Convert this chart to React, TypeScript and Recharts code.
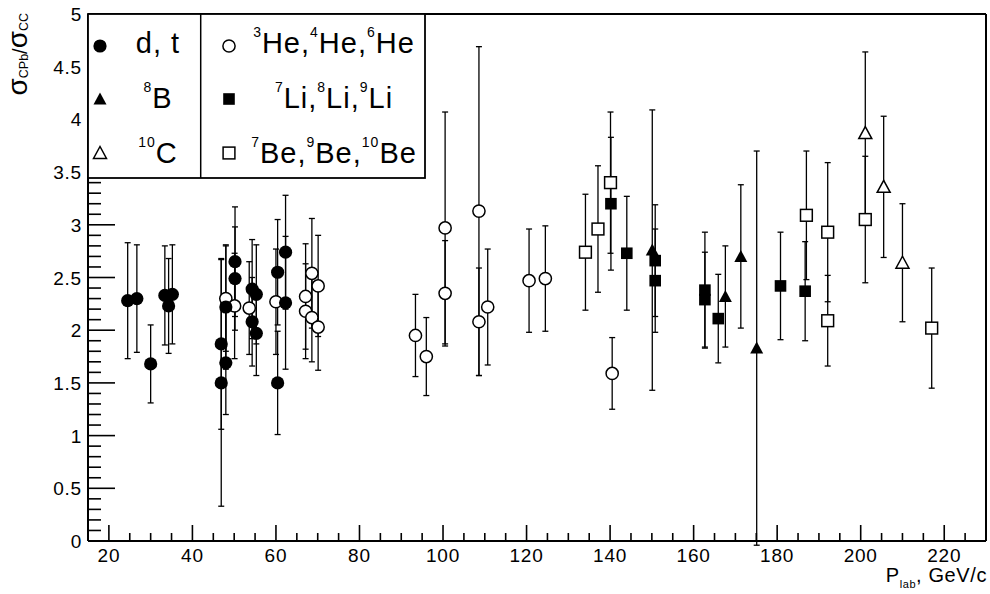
import React from 'react';
import { ScatterChart, Scatter, XAxis, YAxis, ErrorBar, ReferenceLine, Legend } from 'recharts';

// ---------------------------------------------------------------------------
// DATA: [P_lab (GeV/c), sigma_CPb / sigma_CC, error]
// ---------------------------------------------------------------------------
const dtPoints = [
  [24.5, 2.28, 0.55], [26.7, 2.3, 0.51], [30.0, 1.68, 0.37], [33.4, 2.33, 0.47],
  [35.2, 2.34, 0.47], [34.3, 2.23, 0.45], [46.9, 1.5, 1.17], [46.9, 1.87, 0.81],
  [48.0, 2.22, 0.59], [48.0, 1.69, 0.49], [50.2, 2.65, 0.52], [50.2, 2.49, 0.49],
  [54.3, 2.39, 0.47], [55.3, 2.34, 0.47], [54.3, 2.08, 0.42], [55.3, 1.97, 0.4],
  [60.4, 2.55, 0.5], [60.4, 1.5, 0.49], [62.3, 2.74, 0.54], [62.3, 2.26, 0.63],
];

const hePoints = [
  [48.0, 2.3, 0.5], [50.1, 2.23, 0.5], [53.6, 2.21, 0.44], [60.0, 2.27, 0.5],
  [67.1, 2.32, 0.5], [67.1, 2.18, 0.45], [68.6, 2.54, 0.52], [68.6, 2.12, 0.42],
  [70.1, 2.42, 0.48], [70.1, 2.03, 0.41], [93.4, 1.95, 0.39], [96.0, 1.75, 0.37],
  [100.5, 2.97, 1.1], [100.5, 2.35, 0.5], [108.6, 3.13, 1.56], [108.6, 2.08, 0.51],
  [110.7, 2.22, 0.55], [120.6, 2.47, 0.49], [124.5, 2.49, 0.5], [140.5, 1.59, 0.34],
];

const b8Points = [
  [150.1, 2.76, 1.33], [167.6, 2.32, 0.48], [171.3, 2.7, 0.68], [175.1, 1.83, 1.87],
];

const c10Points = [
  [201.1, 3.87, 0.77], [205.5, 3.36, 0.67], [210.0, 2.64, 0.56],
];

const liPoints = [
  [140.2, 3.2, 0.63], [144.0, 2.73, 0.54], [150.8, 2.66, 0.53], [150.8, 2.47, 0.49],
  [162.7, 2.38, 0.55], [162.7, 2.29, 0.45], [165.9, 2.11, 0.42], [180.8, 2.42, 0.51],
  [186.7, 2.37, 0.47],
];

const bePoints = [
  [134.1, 2.74, 0.55], [137.1, 2.96, 0.6], [140.1, 3.4, 0.67], [187.0, 3.09, 0.61],
  [192.1, 2.93, 0.66], [192.1, 2.09, 0.43], [201.1, 3.05, 0.6], [217.0, 2.02, 0.57],
];

const X_DOMAIN = [15, 230];
const Y_DOMAIN = [0, 5];
// major every 20 / 0.5, minor every 5 / 0.1
const xTicks = Array.from({ length: 42 }, (_, i) => 20 + i * 5);
const yTicks = Array.from({ length: 51 }, (_, i) => Math.round(i) / 10);

const FONT = "'Liberation Sans', Arial, Helvetica, sans-serif";

const toRows = (pts: number[][]) => pts.map(([x, y, err]) => ({ x, y, err }));

// ---------------------------------------------------------------------------
// MARKERS (ROOT style)
// ---------------------------------------------------------------------------
type Kind = 'dot' | 'ring' | 'tri' | 'triOpen' | 'sq' | 'sqOpen';

const Marker = ({ cx, cy, kind }: { cx: number; cy: number; kind: Kind }) => {
  if (cx == null || cy == null) return <g />;
  switch (kind) {
    case 'dot':
      return <circle cx={cx} cy={cy} r={6.6} fill="#000" />;
    case 'ring':
      return <circle cx={cx} cy={cy} r={6.1} fill="#fff" stroke="#000" strokeWidth={1.5} />;
    case 'tri':
      return <polygon points={`${cx},${cy - 6.5} ${cx - 6.5},${cy + 5.5} ${cx + 6.5},${cy + 5.5}`} fill="#000" />;
    case 'triOpen':
      return (
        <polygon
          points={`${cx},${cy - 6.5} ${cx - 6.5},${cy + 5.5} ${cx + 6.5},${cy + 5.5}`}
          fill="#fff"
          stroke="#000"
          strokeWidth={1.5}
        />
      );
    case 'sq':
      return <rect x={cx - 5.8} y={cy - 5.8} width={11.6} height={11.6} fill="#000" />;
    default:
      return <rect x={cx - 5.9} y={cy - 5.9} width={11.8} height={11.8} fill="#fff" stroke="#000" strokeWidth={1.5} />;
  }
};

const shapeOf = (kind: Kind) => (p: any) => <Marker cx={p.cx} cy={p.cy} kind={kind} />;

// ---------------------------------------------------------------------------
// AXIS TICKS (drawn inward, ROOT style)
// ---------------------------------------------------------------------------
const XTick = (props: any) => {
  const { x, y, payload } = props;
  const v = payload.value;
  const major = v % 20 === 0;
  return (
    <g>
      <line x1={x} x2={x} y1={y} y2={y - (major ? 16 : 8)} stroke="#000" strokeWidth={1.6} />
      {major && (
        <text x={x} y={y + 21} textAnchor="middle" fontSize={19} letterSpacing={0.8} fontFamily={FONT} fill="#000">
          {v}
        </text>
      )}
    </g>
  );
};

const YTick = (props: any) => {
  const { x, y, payload } = props;
  const v = payload.value;
  const major = Math.abs(v * 2 - Math.round(v * 2)) < 1e-6;
  return (
    <g>
      <line x1={x} x2={x + (major ? 27 : 13)} y1={y} y2={y} stroke="#000" strokeWidth={1.6} />
      {major && (
        <text x={x - 6} y={y + 7} textAnchor="end" fontSize={19} letterSpacing={0.8} fontFamily={FONT} fill="#000">
          {String(v)}
        </text>
      )}
    </g>
  );
};

const XTitle = () => (
  <text x={987} y={582} textAnchor="end" fontSize={20} letterSpacing={0.6} fontFamily={FONT} fill="#000">
    <tspan>P</tspan>
    <tspan fontSize={11} dy={6}>lab</tspan>
    <tspan dy={-6}>, GeV/c</tspan>
  </text>
);

const YTitle = () => (
  <text transform="translate(27,13) rotate(-90)" textAnchor="end" fontFamily={FONT} fill="#000">
    <tspan fontSize={28}>σ</tspan>
    <tspan fontSize={12.5} dy={1}>CPb</tspan>
    <tspan fontSize={20} dy={-1}>/</tspan>
    <tspan fontSize={28}>σ</tspan>
    <tspan fontSize={12.5} dy={1}>CC</tspan>
  </text>
);

// ---------------------------------------------------------------------------
// LEGEND (two-column box in upper left corner)
// ---------------------------------------------------------------------------
const legendLeft: { kind: Kind; sup: string; text: string }[] = [
  { kind: 'dot', sup: '', text: 'd, t' },
  { kind: 'tri', sup: '8', text: 'B' },
  { kind: 'triOpen', sup: '10', text: 'C' },
];

const legendRight: { kind: Kind; parts: [string, string][] }[] = [
  { kind: 'ring', parts: [['3', 'He,'], ['4', 'He,'], ['6', 'He']] },
  { kind: 'sq', parts: [['7', 'Li,'], ['8', 'Li,'], ['9', 'Li']] },
  { kind: 'sqOpen', parts: [['7', 'Be,'], ['9', 'Be,'], ['10', 'Be']] },
];

const rowMarkerY = [33, 86, 140];
const rowBaseY = [40.3, 95.3, 149.7];

const renderLegend = () => (
  <svg width={342} height={168} style={{ display: 'block' }}>
    <rect x={1} y={1} width={337} height={164} fill="#fff" stroke="#000" strokeWidth={1.8} />
    <line x1={113.7} x2={113.7} y1={1} y2={165} stroke="#000" strokeWidth={1.5} />
    {legendLeft.map((r, i) => (
      <g key={`l${i}`}>
        <Marker cx={13} cy={rowMarkerY[i]} kind={r.kind} />
        <text x={71} y={rowBaseY[i]} textAnchor="middle" fontSize={29} letterSpacing={1} fontFamily={FONT} fill="#000">
          {r.sup && (
            <tspan fontSize={14} dy={-16}>
              {r.sup}
            </tspan>
          )}
          <tspan dy={r.sup ? 16 : 0}>{r.text}</tspan>
        </text>
      </g>
    ))}
    {legendRight.map((r, i) => (
      <g key={`r${i}`}>
        <Marker cx={142} cy={rowMarkerY[i]} kind={r.kind} />
        <text x={247} y={rowBaseY[i]} textAnchor="middle" fontSize={29} letterSpacing={1} fontFamily={FONT} fill="#000">
          {r.parts.map(([sup, t], j) => (
            <React.Fragment key={j}>
              <tspan fontSize={14} dy={-16}>
                {sup}
              </tspan>
              <tspan dy={16}>{t}</tspan>
            </React.Fragment>
          ))}
        </text>
      </g>
    ))}
  </svg>
);

// ---------------------------------------------------------------------------
// SERIES
// ---------------------------------------------------------------------------
const series: { key: string; pts: number[][]; kind: Kind }[] = [
  { key: 'he', pts: hePoints, kind: 'ring' },
  { key: 'dt', pts: dtPoints, kind: 'dot' },
  { key: 'be', pts: bePoints, kind: 'sqOpen' },
  { key: 'li', pts: liPoints, kind: 'sq' },
  { key: 'b8', pts: b8Points, kind: 'tri' },
  { key: 'c10', pts: c10Points, kind: 'triOpen' },
];

export default function App() {
  return (
    <div style={{ position: 'absolute', left: 0, top: 0, width: 990, height: 594, background: '#fff' }}>
      <ScatterChart width={990} height={594} margin={{ top: 14, right: 4, bottom: 0, left: 0 }}>
        <XAxis
          type="number"
          dataKey="x"
          domain={X_DOMAIN}
          ticks={xTicks}
          interval={0}
          tick={XTick}
          tickLine={false}
          tickSize={0}
          tickMargin={0}
          height={53}
          allowDataOverflow
          axisLine={{ stroke: '#000', strokeWidth: 2 }}
          label={{ content: XTitle }}
        />
        <YAxis
          type="number"
          dataKey="y"
          domain={Y_DOMAIN}
          ticks={yTicks}
          interval={0}
          tick={YTick}
          tickLine={false}
          tickSize={0}
          tickMargin={0}
          width={88}
          allowDataOverflow
          axisLine={{ stroke: '#000', strokeWidth: 2 }}
          label={{ content: YTitle }}
        />
        <ReferenceLine y={5} stroke="#000" strokeWidth={2} />
        <ReferenceLine x={230} stroke="#000" strokeWidth={2} />
        {series.map((s) => (
          <Scatter key={s.key} data={toRows(s.pts)} shape={shapeOf(s.kind)} isAnimationActive={false}>
            <ErrorBar dataKey="err" direction="y" width={3} stroke="#000" strokeWidth={1.3} isAnimationActive={false} />
          </Scatter>
        ))}
        <Legend
          content={renderLegend}
          layout="horizontal"
          verticalAlign="middle"
          align="center"
          wrapperStyle={{ left: 87, top: 13, width: 342, height: 168 }}
        />
      </ScatterChart>
    </div>
  );
}
